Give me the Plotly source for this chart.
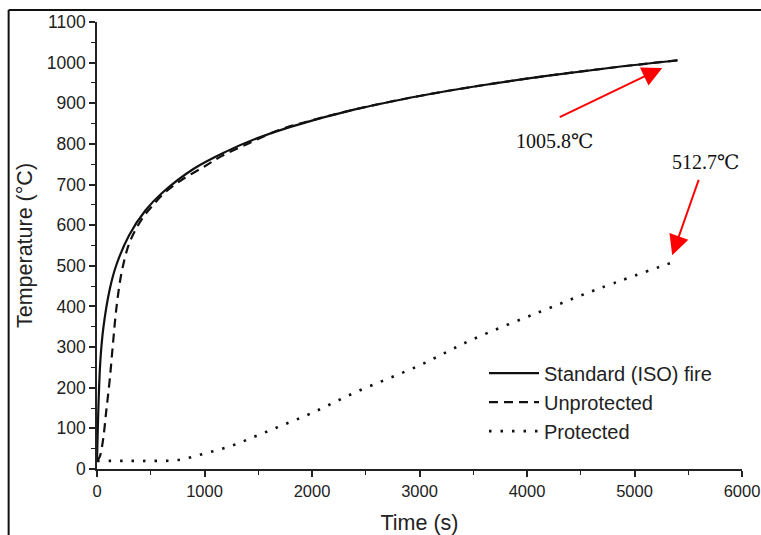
import plotly.graph_objects as go

# ---- data ----
iso_time = [0, 30, 60, 120, 180, 300, 450, 600, 900, 1200, 1500, 1800, 2400, 3000, 3600, 4200, 4800, 5400]
iso_temp = [20, 261, 349, 444, 502, 576, 636, 678, 739, 781, 815, 842, 885, 918, 945, 968, 988, 1005.8]

unp_time = [0, 25, 56, 85, 118, 149, 180, 227, 289, 351, 430, 506, 630, 786, 1003, 1158, 1400, 1700, 2000, 2400, 3000, 3600, 4200, 4800, 5400]
unp_temp = [20, 30, 71, 140, 219, 310, 395, 481, 547, 585, 620, 645, 680, 711, 745, 770, 800, 835, 858, 885, 918, 945, 968, 988, 1005.8]

pro_time = [0, 250, 500, 750, 1000, 1250, 1468, 1700, 2000, 2415, 3000, 3486, 4122, 4680, 5400]
pro_temp = [20, 20, 20, 22, 38, 57, 80, 105, 138, 190, 255, 318, 387, 445, 512.7]

x_ticks = [0, 1000, 2000, 3000, 4000, 5000, 6000]
y_ticks = [0, 100, 200, 300, 400, 500, 600, 700, 800, 900, 1000, 1100]

series_names = ["Standard (ISO) fire", "Unprotected", "Protected"]
labels = ["1005.8\u2103", "512.7\u2103"]

fig = go.Figure()
fig.add_trace(go.Scatter(x=iso_time, y=iso_temp, mode="lines", name=series_names[0],
                         line=dict(color="#111111", width=2.2, shape="spline")))
fig.add_trace(go.Scatter(x=unp_time, y=unp_temp, mode="lines", name=series_names[1],
                         line=dict(color="#111111", width=2.2, dash="9px,6px", shape="spline")))
fig.add_trace(go.Scatter(x=pro_time, y=pro_temp, mode="lines", name=series_names[2],
                         line=dict(color="#111111", width=2.6, dash="2.5px,9px", shape="spline")))

sans = "Liberation Sans, Arial, sans-serif"
title_font = dict(family=sans, size=21.5, color="#222222")
fig.update_xaxes(range=[0, 6000], tickvals=x_ticks, showline=True, linecolor="#222222", linewidth=1.5,
                 ticks="outside", ticklen=6, tickwidth=1.5, tickcolor="#222222",
                 minor=dict(dtick=500, ticks="outside", ticklen=4, tickwidth=1.3, tickcolor="#222222"),
                 showgrid=False, zeroline=False, tickfont=dict(family=sans, size=16.5, color="#222222"),
                 automargin=False, ticklabeloverflow="allow",
                 title=dict(text="Time (s)", font=title_font, standoff=17))
fig.update_yaxes(range=[0, 1100], tickvals=y_ticks, showline=True, linecolor="#222222", linewidth=1.5,
                 ticks="outside", ticklen=6, tickwidth=1.5, tickcolor="#222222",
                 minor=dict(dtick=50, ticks="outside", ticklen=4, tickwidth=1.3, tickcolor="#222222"),
                 showgrid=False, zeroline=False, tickfont=dict(family=sans, size=17.5, color="#222222"),
                 automargin=False, ticklabeloverflow="allow",
                 title=dict(text="Temperature (°C)", font=title_font, standoff=8))

# the page body margin is removed below, so the figure fills the whole window
fig.update_layout(
    width=761, height=535,
    margin=dict(l=97, r=19, t=22, b=66, autoexpand=False),
    plot_bgcolor="white", paper_bgcolor="white",
    legend=dict(x=0.600, y=0.258, xanchor="left", yanchor="top", bgcolor="rgba(0,0,0,0)",
                font=dict(family=sans, size=20, color="#222222"),
                itemwidth=50, tracegroupgap=0),
    showlegend=True,
    hovermode=False,
)

# red arrows and labels
fig.add_annotation(x=5258, y=987, ax=-104, ay=50, xref="x", yref="y",
                   showarrow=True, arrowhead=2, arrowsize=2, arrowwidth=2, arrowcolor="#ff0000", text="")
fig.add_annotation(x=5351, y=526, ax=27, ay=-77, xref="x", yref="y",
                   showarrow=True, arrowhead=2, arrowsize=2, arrowwidth=2, arrowcolor="#ff0000", text="")
serif = dict(family="Liberation Serif, DejaVu Serif, serif", size=20, color="#111111")
fig.add_annotation(x=4260, y=806, xref="x", yref="y", text=labels[0], showarrow=False, font=serif,
                   xanchor="center", yanchor="middle")
fig.add_annotation(x=5660, y=755, xref="x", yref="y", text=labels[1], showarrow=False, font=serif,
                   xanchor="center", yanchor="middle")

# outer frame (top and left edges)
fig.add_shape(type="line", xref="paper", yref="paper", x0=-0.137, x1=1.05, y0=1.027, y1=1.027,
              line=dict(color="#111111", width=2), layer="above")
fig.add_shape(type="line", xref="paper", yref="paper", x0=-0.137, x1=-0.137, y0=1.027, y1=-0.16,
              line=dict(color="#111111", width=2), layer="above")

fig.write_html(
    "out.html",
    config={"displayModeBar": False, "displaylogo": False},
    post_script=("document.body.style.margin='0';"
                 "document.body.style.overflow='hidden';"
                 "document.documentElement.style.overflow='hidden';"),
)
